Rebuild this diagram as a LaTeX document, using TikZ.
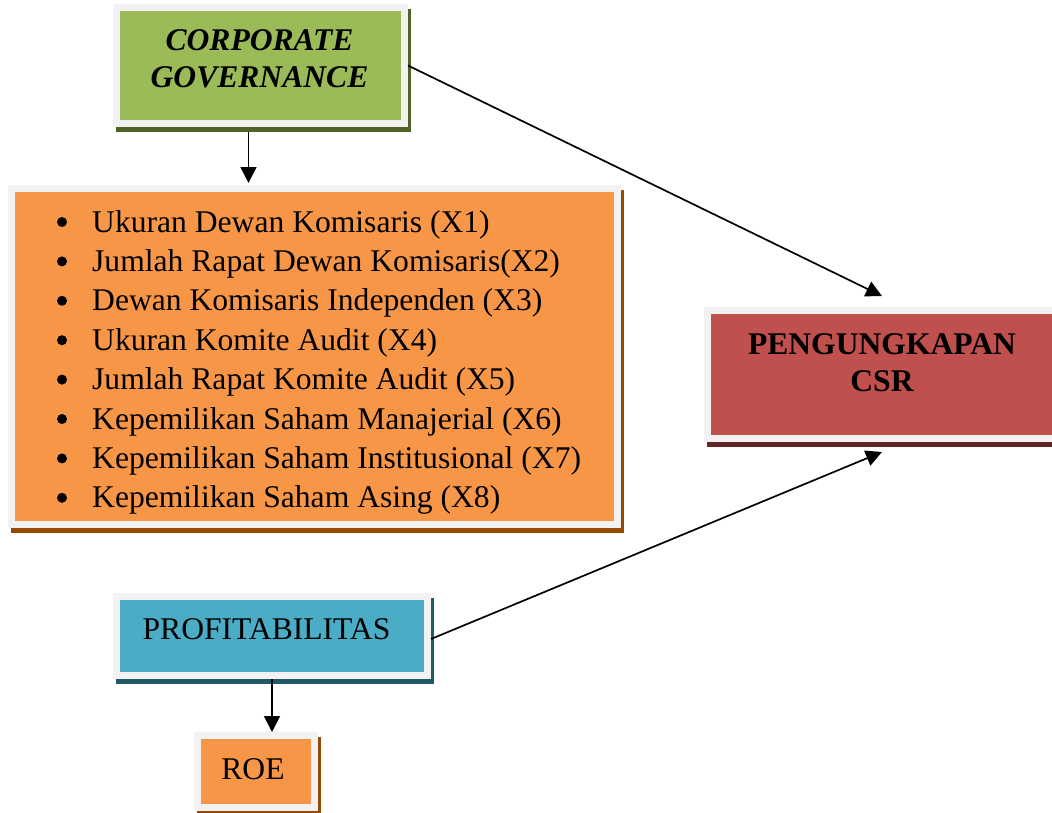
\documentclass[tikz,border=0pt]{standalone}
\usepackage{fontspec}
\setmainfont{Liberation Serif}
\usetikzlibrary{arrows.meta}
\usetikzlibrary{backgrounds}

\definecolor{bingkai}{HTML}{F2F2F2}
\definecolor{hijau}{HTML}{9BBB59}
\definecolor{hijaugelap}{HTML}{4F6228}
\definecolor{oranye}{HTML}{F79646}
\definecolor{oranyegelap}{HTML}{984807}
\definecolor{merah}{HTML}{C0504D}
\definecolor{merahgelap}{HTML}{632523}
\definecolor{biru}{HTML}{4BACC6}
\definecolor{birugelap}{HTML}{215968}

\tikzset{
	kotak/.style={rectangle, draw=bingkai, line width=7pt, fill=#1, inner sep=0pt},
	teks/.style={inner sep=0pt, align=center, font=\fontsize{31.6}{37}\selectfont},
	tebal/.style={teks, font=\fontsize{31.6}{37}\selectfont\bfseries},
	miring/.style={teks, font=\fontsize{31.6}{37}\selectfont\bfseries\itshape},
	panah/.style={-{Triangle[width=16pt,length=16pt]}, line width=1.7pt},
}

\begin{document}
\begin{tikzpicture}[x=1pt,y=-1pt]
		\useasboundingbox (0,0) rectangle (1052,812);
		
		% kotak
		\node[kotak=hijau, minimum width=288pt, minimum height=116pt] (cg) at (260.5,65.5) {};
		\node[kotak=oranye, minimum width=606pt, minimum height=336pt] (indikator) at (314.5,356.5) {};
		\node[kotak=merah, minimum width=349pt, minimum height=128pt] (csr) at (882,374.5) {};
		\node[kotak=biru, minimum width=311pt, minimum height=79pt] (profit) at (272,636) {};
		\node[kotak=oranye, minimum width=117pt, minimum height=72pt] (roe) at (256,771.5) {};
		
		\begin{scope}[on background layer]
			\foreach \n/\w in {cg/hijaugelap, indikator/oranyegelap, csr/merahgelap, profit/birugelap, roe/oranyegelap}{
				\fill[\w] ([shift={(3,5)}]\n.south west) rectangle ([shift={(3,5)}]\n.north east);
			}
		\end{scope}
		
		% teks
		\node[miring] (cgteks) at (259.5,59) {CORPORATE\\GOVERNANCE};
		\node[tebal] (csrteks) at (882,363) {PENGUNGKAPAN\\CSR};
		\node[teks, anchor=base] (profitteks) at (266.5,639) {PROFITABILITAS};
		\node[teks, anchor=base] (roeteks) at (253,779) {ROE};
		
		\foreach \butir [count=\i] in {Ukuran Dewan Komisaris (X1), Jumlah Rapat Dewan Komisaris(X2), Dewan Komisaris Independen (X3), Ukuran Komite Audit (X4), Jumlah Rapat Komite Audit (X5), Kepemilikan Saham Manajerial (X6), Kepemilikan Saham Institusional (X7), Kepemilikan Saham Asing (X8)}{
			\fill (62,{222+39.4*(\i-1)}) circle (5pt);
			\node[teks, anchor=base west] (x\i) at (92,{232+39.4*(\i-1)}) {\butir};
		}
		
		% panah
		\coordinate (cgbawah) at ([xshift=-12pt,yshift=-5pt]cg.south);
		\draw[panah] (cgbawah) -- ([yshift=2pt]cgbawah |- indikator.north);
		\draw[panah] (cg.east) -- ([yshift=11pt]csr.north);
		\draw[panah] ([yshift=-3pt]profit.east) -- ([yshift=-10pt]csr.south);
		\draw[panah] (profit.south) -- (profit.south |- roe.north);
\end{tikzpicture}
\end{document}
